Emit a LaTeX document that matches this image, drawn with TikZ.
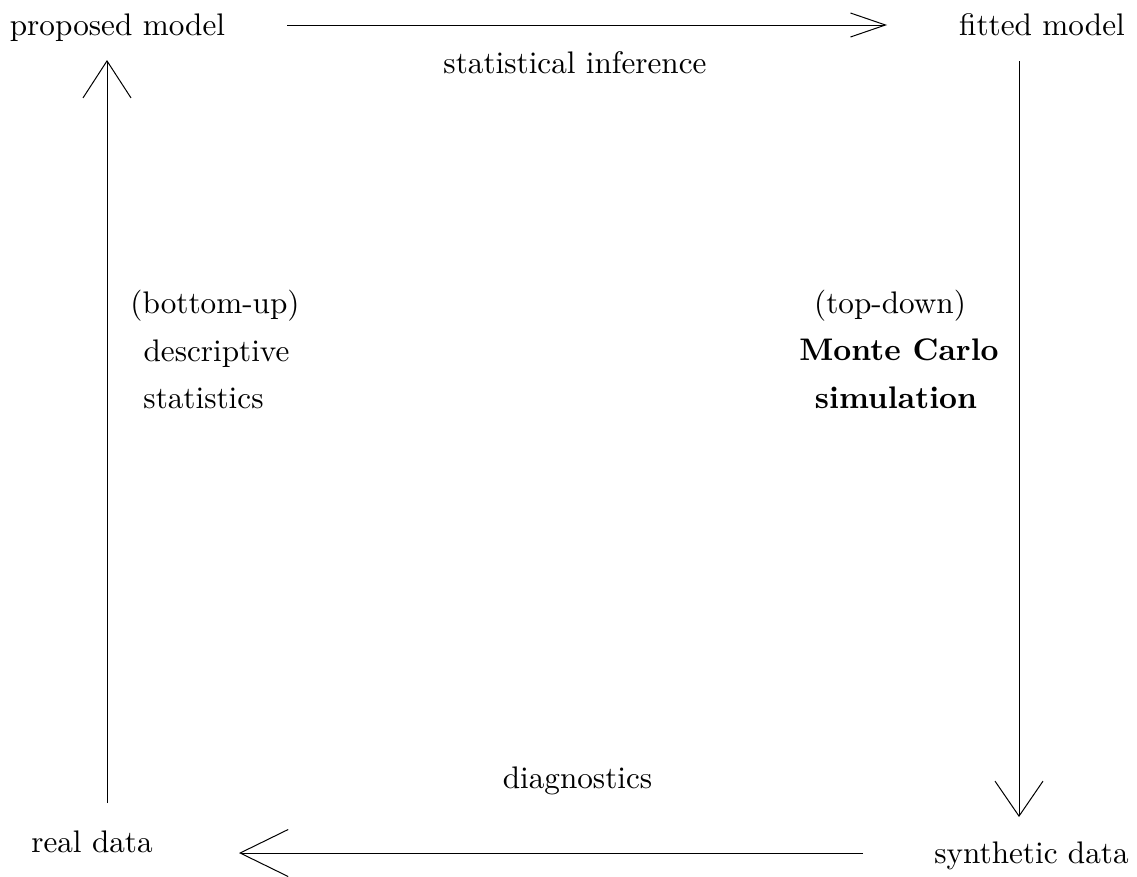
\documentclass[tikz,border=0pt]{standalone}
\usepackage{fontspec}
\setmainfont{lmroman10}[Extension=.otf, UprightFont=*-regular, BoldFont=*-bold, ItalicFont=*-italic]
\usetikzlibrary{arrows.meta}
\begin{document}
\begin{tikzpicture}[x=1pt,y=-1pt,
  lbl/.style={anchor=base,inner sep=0pt,font=\fontsize{31.2}{37}\selectfont},
  conn/.style={line width=1pt}]
\useasboundingbox (0,0) rectangle (1137,876);
\node[lbl] (pm) at (117.5,35) {proposed model};
\node[lbl] (fm) at (1042,35) {fitted model};
\node[lbl] (sd) at (1031.5,863) {synthetic data};
\node[lbl] (rd) at (92,852) {real data};
\node[lbl] (si) at (575,73) {statistical inference};
\node[lbl] (dg) at (577.5,788) {diagnostics};
\node[lbl] (bu) at (215,313) {(bottom-up)};
\node[lbl] (ds) at (216.5,361) {descriptive};
\node[lbl] (st) at (203.5,408) {statistics};
\node[lbl] (td) at (890,313) {(top-down)};
\node[lbl,font=\fontsize{31.2}{37}\selectfont\bfseries] (mc) at (899,360) {Monte Carlo};
\node[lbl,font=\fontsize{31.2}{37}\selectfont\bfseries] (sm) at (896,408) {simulation};
\coordinate (t1) at (287,25);
\coordinate (t2) at (887,25);
\coordinate (r1) at (1019,61);
\coordinate (r2) at (1019,817);
\coordinate (b1) at (863,853);
\coordinate (b2) at (239,853);
\coordinate (l1) at (107,803);
\coordinate (l2) at (107,60);
\draw[conn,-{Straight Barb[length=35pt,width=24pt,line width=1pt]}] (t1) -- (t2);
\draw[conn,-{Straight Barb[length=35pt,width=48pt,line width=1pt]}] (r1) -- (r2);
\draw[conn,-{Straight Barb[length=48pt,width=47pt,line width=1pt]}] (b1) -- (b2);
\draw[conn,-{Straight Barb[length=37pt,width=48pt,line width=1pt]}] (l1) -- (l2);
\end{tikzpicture}
\end{document}
